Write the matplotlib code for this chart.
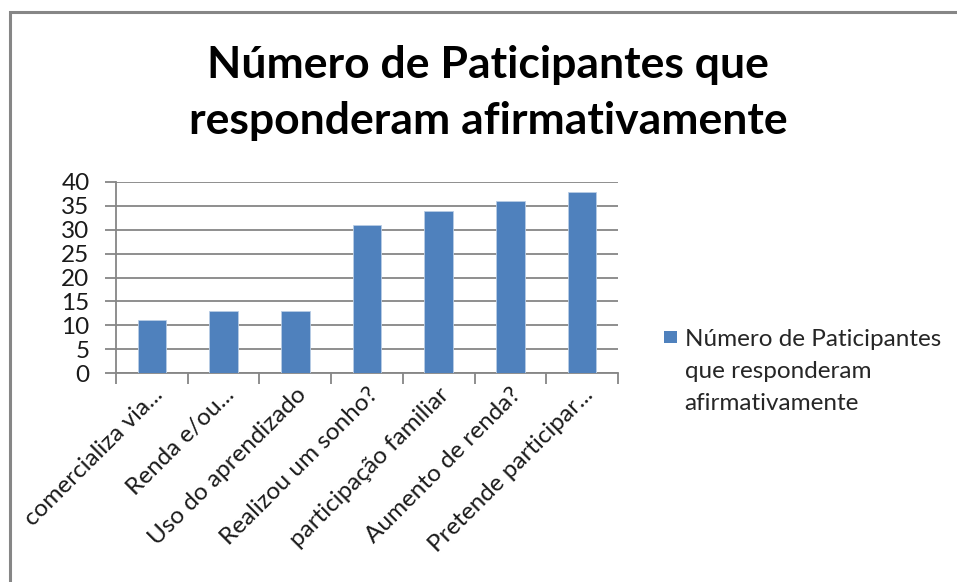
import matplotlib
matplotlib.use("Agg")
import matplotlib.pyplot as plt
from matplotlib.patches import Rectangle
from matplotlib.legend_handler import HandlerPatch

categories = ["comercializa via...", "Renda e/ou...", "Uso do aprendizado",
              "Realizou um sonho?", "participação familiar", "Aumento de renda?",
              "Pretende participar..."]
values = [11, 13, 13, 31, 34, 36, 38]
series_name = "Número de Paticipantes\nque responderam\nafirmativamente"
title = "Número de Paticipantes que\nresponderam afirmativamente"
yticks = [0, 5, 10, 15, 20, 25, 30, 35, 40]

plt.rcParams['font.family'] = ['Lato', 'DejaVu Sans']

W, H = 957, 582
fig = plt.figure(figsize=(W / 100, H / 100), dpi=100)

# chart border
fig.patches.append(Rectangle((9.5 / W, -0.05), 1.2, 1 - 11.5 / H + 0.05,
                             transform=fig.transFigure, fill=False,
                             edgecolor="#868686", linewidth=2.2))

ax = fig.add_axes([116 / W, 1 - 373 / H, (618 - 116) / W, (373 - 182) / H])
bar_color = "#4F81BD"
bars = ax.bar(range(len(values)), values, width=0.4, color=bar_color,
              edgecolor="#B9CDE5", linewidth=0.6, label=series_name, zorder=3)

FS = 17.5
ax.set_xlim(-0.5, len(values) - 0.5)
ax.set_ylim(0, 40)
ax.set_yticks(yticks)
ax.set_yticklabels([str(v) for v in yticks], fontsize=FS, color="#1a1a1a")
ax.yaxis.grid(True, color="#868686", linewidth=1.3, zorder=0)
ax.set_axisbelow(True)

ax.set_xticks(range(len(values)))
ax.set_xticklabels(categories, rotation=45, ha="right", rotation_mode="anchor",
                   fontsize=FS, color="#1a1a1a")
ax.set_xticks([i - 0.5 for i in range(len(values) + 1)], minor=True)
ax.tick_params(axis="x", which="major", length=0, pad=8)
ax.tick_params(axis="x", which="minor", length=8, width=1.3, color="#868686")
ax.tick_params(axis="y", length=8, width=1.3, color="#868686", pad=11)

for s in ["top", "right"]:
    ax.spines[s].set_visible(False)
for s in ["left", "bottom"]:
    ax.spines[s].set_color("#868686")
    ax.spines[s].set_linewidth(1.3)

LS = 1.65


class TopHandler(HandlerPatch):
    def create_artists(self, legend, orig_handle, xdescent, ydescent,
                       width, height, fontsize, trans):
        size = 9
        p = Rectangle((-xdescent, -ydescent + 1.24 * fontsize * LS / 1.3 - 1.5),
                      size, size, facecolor=bar_color, edgecolor="none",
                      transform=trans)
        return [p]


leg = fig.legend(handles=[bars.patches[0]], labels=[series_name],
                 loc="upper left", bbox_to_anchor=(664 / W, 1 - 329 / H),
                 frameon=False, fontsize=FS, handlelength=0.55,
                 handleheight=0.6, handletextpad=0.3, borderpad=0,
                 borderaxespad=0,
                 handler_map={Rectangle: TopHandler()})
for t in leg.get_texts():
    t.set_color("#262626")
    t.set_linespacing(LS)

fig.text(488 / W, 1 - 93 / H, title, ha="center", va="center",
         fontsize=32, fontweight="bold", linespacing=1.5)

fig.savefig("out.png", dpi=100)
